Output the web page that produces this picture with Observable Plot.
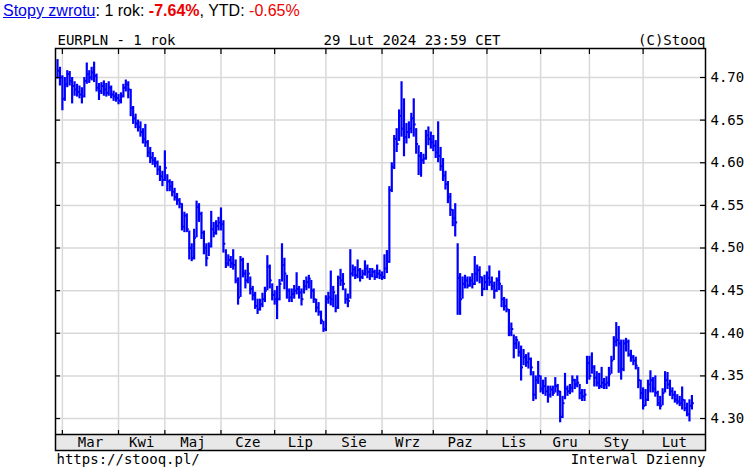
<!DOCTYPE html>
<html><head><meta charset="utf-8">
<script src="https://cdn.jsdelivr.net/npm/d3@7"></script>
<script src="https://cdn.jsdelivr.net/npm/@observablehq/plot@0.6"></script>
<style>
body{margin:0;background:#fff;overflow:hidden}
#wrap{position:relative;width:751px;height:469px;background:#fff}
#chart{position:absolute;left:0;top:0}
#title{position:absolute;left:3px;top:2px;font:16px "Liberation Sans",Arial,sans-serif;line-height:18px;white-space:nowrap;color:#000}
#title a{color:#0000ee;text-decoration:underline}
.neg{color:#ee0000}
</style></head><body>
<div id="wrap"><div id="chart"></div>
<div id="title"><a href="#">Stopy zwrotu</a>: 1 rok: <b class="neg">-7.64%</b>, YTD: <span class="neg">-0.65%</span></div>
</div>
<script>
// Daily EURPLN bars, index 0 = 27 Feb 2023 ... 260 = 29 Feb 2024
const close = [
4.708,4.700,4.675,4.692,4.704,4.696,4.690,4.686,4.683,4.680,
4.678,4.696,4.704,4.700,4.706,4.702,4.688,4.684,4.690,4.686,
4.682,4.688,4.680,4.678,4.676,4.673,4.678,4.688,4.692,4.686,
4.664,4.652,4.646,4.642,4.636,4.628,4.624,4.612,4.606,4.603,
4.600,4.592,4.584,4.580,4.594,4.578,4.572,4.566,4.560,4.556,
4.552,4.525,4.538,4.522,4.500,4.488,4.512,4.548,4.540,4.518,
4.500,4.488,4.502,4.522,4.518,4.526,4.530,4.528,4.505,4.482,
4.486,4.482,4.480,4.462,4.442,4.486,4.470,4.462,4.470,4.452,
4.445,4.432,4.428,4.434,4.440,4.450,4.478,4.462,4.445,4.440,
4.440,4.458,4.480,4.470,4.450,4.442,4.446,4.450,4.452,4.448,
4.440,4.455,4.460,4.464,4.450,4.440,4.430,4.425,4.415,4.405,
4.440,4.442,4.440,4.448,4.430,4.465,4.462,4.458,4.440,4.438,
4.470,4.475,4.468,4.474,4.466,4.470,4.476,4.472,4.468,4.472,
4.466,4.470,4.468,4.466,4.476,4.484,4.568,4.595,4.628,4.622,
4.655,4.640,4.630,4.636,4.640,4.652,4.645,4.622,4.608,4.603,
4.605,4.632,4.628,4.624,4.620,4.612,4.608,4.596,4.585,4.575,
4.560,4.545,4.535,4.530,4.465,4.440,4.458,4.462,4.456,4.462,
4.458,4.470,4.474,4.466,4.452,4.460,4.465,4.460,4.455,4.450,
4.462,4.458,4.440,4.432,4.428,4.400,4.405,4.388,4.392,4.378,
4.360,4.372,4.366,4.370,4.360,4.328,4.345,4.350,4.335,4.338,
4.332,4.328,4.334,4.330,4.338,4.332,4.302,4.318,4.335,4.332,
4.336,4.345,4.340,4.342,4.330,4.326,4.328,4.365,4.350,4.360,
4.348,4.342,4.338,4.342,4.340,4.342,4.352,4.368,4.390,4.392,
4.388,4.358,4.388,4.390,4.375,4.372,4.368,4.362,4.345,4.330,
4.315,4.322,4.340,4.345,4.335,4.330,4.318,4.315,4.330,4.345,
4.340,4.332,4.328,4.322,4.320,4.318,4.322,4.312,4.305,4.315,
4.318];
const high = [
4.721,4.712,4.702,4.700,4.708,4.707,4.700,4.695,4.692,4.690,
4.688,4.700,4.717,4.708,4.712,4.718,4.704,4.693,4.694,4.696,
4.693,4.695,4.690,4.684,4.682,4.680,4.682,4.692,4.697,4.695,
4.686,4.666,4.657,4.650,4.648,4.640,4.645,4.626,4.618,4.612,
4.606,4.602,4.596,4.590,4.614,4.586,4.580,4.578,4.570,4.564,
4.558,4.552,4.542,4.540,4.520,4.505,4.522,4.555,4.552,4.542,
4.520,4.505,4.506,4.543,4.530,4.532,4.536,4.547,4.532,4.498,
4.492,4.490,4.498,4.486,4.465,4.490,4.488,4.474,4.482,4.466,
4.455,4.448,4.440,4.440,4.447,4.454,4.491,4.480,4.458,4.450,
4.455,4.463,4.505,4.488,4.468,4.452,4.452,4.456,4.471,4.455,
4.452,4.462,4.466,4.468,4.462,4.452,4.440,4.436,4.426,4.414,
4.444,4.448,4.473,4.455,4.445,4.467,4.475,4.470,4.452,4.446,
4.498,4.480,4.478,4.486,4.476,4.474,4.485,4.480,4.476,4.476,
4.474,4.480,4.474,4.472,4.492,4.497,4.572,4.600,4.632,4.640,
4.662,4.695,4.675,4.646,4.648,4.658,4.675,4.640,4.620,4.612,
4.610,4.638,4.642,4.636,4.632,4.626,4.648,4.618,4.605,4.590,
4.578,4.564,4.545,4.552,4.505,4.470,4.466,4.468,4.466,4.466,
4.470,4.490,4.480,4.478,4.466,4.468,4.472,4.479,4.466,4.460,
4.465,4.473,4.456,4.442,4.440,4.428,4.412,4.398,4.396,4.390,
4.385,4.381,4.375,4.377,4.371,4.355,4.350,4.367,4.350,4.345,
4.348,4.338,4.338,4.338,4.348,4.340,4.332,4.326,4.353,4.338,
4.340,4.350,4.346,4.350,4.340,4.334,4.334,4.373,4.373,4.377,
4.362,4.355,4.353,4.360,4.347,4.349,4.360,4.373,4.396,4.4125,
4.408,4.392,4.392,4.394,4.392,4.380,4.374,4.372,4.360,4.345,
4.336,4.334,4.345,4.356,4.348,4.350,4.332,4.326,4.335,4.355,
4.354,4.345,4.336,4.332,4.328,4.326,4.337,4.322,4.318,4.322,
4.327];
const low = [
4.698,4.690,4.661,4.672,4.688,4.690,4.669,4.678,4.677,4.675,
4.669,4.676,4.692,4.693,4.696,4.694,4.683,4.673,4.680,4.678,
4.677,4.678,4.675,4.672,4.671,4.668,4.669,4.676,4.683,4.675,
4.654,4.645,4.640,4.636,4.630,4.622,4.618,4.606,4.599,4.597,
4.594,4.585,4.578,4.572,4.578,4.566,4.566,4.560,4.555,4.550,
4.546,4.520,4.518,4.518,4.486,4.484,4.486,4.512,4.530,4.510,
4.492,4.478,4.490,4.500,4.512,4.515,4.520,4.520,4.494,4.476,
4.478,4.476,4.474,4.458,4.433,4.442,4.465,4.452,4.458,4.445,
4.438,4.428,4.422,4.426,4.430,4.436,4.450,4.452,4.438,4.433,
4.416,4.438,4.460,4.451,4.440,4.436,4.436,4.440,4.445,4.440,
4.432,4.446,4.450,4.452,4.440,4.435,4.424,4.420,4.410,4.401,
4.402,4.434,4.432,4.430,4.424,4.428,4.455,4.450,4.434,4.430,
4.440,4.466,4.463,4.464,4.460,4.463,4.467,4.464,4.462,4.465,
4.462,4.464,4.463,4.462,4.463,4.470,4.482,4.565,4.592,4.612,
4.625,4.630,4.607,4.622,4.628,4.634,4.630,4.610,4.585,4.583,
4.598,4.603,4.620,4.616,4.613,4.605,4.600,4.590,4.578,4.568,
4.552,4.537,4.525,4.513,4.421,4.421,4.440,4.452,4.452,4.454,
4.452,4.456,4.460,4.458,4.443,4.450,4.450,4.455,4.450,4.440,
4.448,4.450,4.430,4.426,4.424,4.396,4.396,4.370,4.381,4.372,
4.344,4.362,4.360,4.358,4.350,4.320,4.322,4.340,4.330,4.328,
4.326,4.318,4.324,4.326,4.330,4.326,4.295,4.300,4.322,4.326,
4.328,4.330,4.334,4.336,4.322,4.320,4.320,4.340,4.345,4.352,
4.337,4.337,4.334,4.335,4.334,4.334,4.337,4.352,4.368,4.384,
4.353,4.345,4.355,4.378,4.372,4.366,4.362,4.357,4.335,4.322,
4.310,4.314,4.320,4.330,4.330,4.325,4.314,4.310,4.315,4.330,
4.334,4.326,4.322,4.318,4.316,4.314,4.310,4.308,4.302,4.296,
4.310];
const monthLabels = ["Mar","Kwi","Maj","Cze","Lip","Sie","Wrz","Paz","Lis","Gru","Sty","Lut"];
const monthStartIdx = [2,25,44,67,89,110,133,154,176,198,218,240];
const yTicks = [4.30,4.35,4.40,4.45,4.50,4.55,4.60,4.65,4.70];

const bars = close.map((c, i) => ({i, c, h: high[i], l: low[i]}));
const xDom = [-0.82, 265.57];
const yDom = [4.2625, 4.734];
const stripTop = 4.2812;
const pxX = (xDom[1] - xDom[0]) / 650;   // data units per pixel
const pxY = (yDom[1] - yDom[0]) / 402;
const mono = "'DejaVu Sans Mono', monospace";
const labelX = monthStartIdx.map((s, k) => (s + (k + 1 < monthStartIdx.length ? monthStartIdx[k + 1] : xDom[1])) / 2);
const grid = "#d9d9d9";
const txt = {fontSize: 14, fill: "#000", lineAnchor: "middle"};

const chart = Plot.plot({
  width: 751, height: 469,
  marginTop: 48, marginBottom: 19, marginLeft: 55, marginRight: 46,
  style: {fontFamily: mono, fontSize: "14px", color: "#000", background: "#fff", overflow: "visible"},
  x: {domain: xDom, axis: null},
  y: {domain: yDom, axis: null},
  marks: [
    Plot.rect([0], {x1: xDom[0], x2: xDom[1], y1: yDom[0], y2: stripTop, fill: "#e8e8e8"}),
    Plot.ruleY(yTicks, {stroke: grid, strokeWidth: 1.5}),
    Plot.ruleX(monthStartIdx, {y1: stripTop, y2: yDom[1], stroke: grid, strokeWidth: 1.5}),
    Plot.ruleX(bars, {x: "i", y1: "l", y2: "h", stroke: "#0000ff", strokeWidth: 2.2}),
    Plot.ruleY(bars, {y: "c", x1: "i", x2: d => d.i + 1, stroke: "#0000ff", strokeWidth: 2}),
    Plot.ruleY([stripTop], {stroke: "#000", strokeWidth: 1.5}),
    Plot.ruleX(monthStartIdx, {y1: yDom[1], y2: yDom[1] - 6 * pxY, stroke: "#000", strokeWidth: 1.2}),
    Plot.ruleX(monthStartIdx, {y1: stripTop, y2: stripTop + 4 * pxY, stroke: "#000", strokeWidth: 1.2}),
    Plot.ruleY(yTicks, {x1: xDom[0], x2: xDom[0] + 5 * pxX, stroke: "#000", strokeWidth: 1.2}),
    Plot.ruleY(yTicks, {x1: xDom[1] - 5 * pxX, x2: xDom[1], stroke: "#000", strokeWidth: 1.2}),
    Plot.frame({stroke: "#000", strokeWidth: 1.5}),
    Plot.axisY(yTicks, {anchor: "right", tickSize: 0, tickPadding: 5, tickFormat: d => d.toFixed(2), label: null, fontSize: 14, fill: "#000"}),
    Plot.text(monthLabels, {...txt, x: (d, k) => labelX[k], y: (stripTop + yDom[0]) / 2, text: d => d}),
    Plot.text(["EURPLN - 1 rok"], {...txt, frameAnchor: "top-left", textAnchor: "start", dx: 2, dy: -8}),
    Plot.text(["29 Lut 2024 23:59 CET"], {...txt, frameAnchor: "top-left", textAnchor: "start", dx: 268, dy: -8}),
    Plot.text(["(C)Stooq"], {...txt, frameAnchor: "top-right", textAnchor: "end", dx: 0, dy: -8}),
    Plot.text(["https://stooq.pl/"], {...txt, frameAnchor: "bottom-left", textAnchor: "start", dx: 1, dy: 9}),
    Plot.text(["Interwal Dzienny"], {...txt, frameAnchor: "bottom-right", textAnchor: "end", dx: 0, dy: 9})
  ]
});
document.getElementById("chart").appendChild(chart);
</script>
</body></html>
